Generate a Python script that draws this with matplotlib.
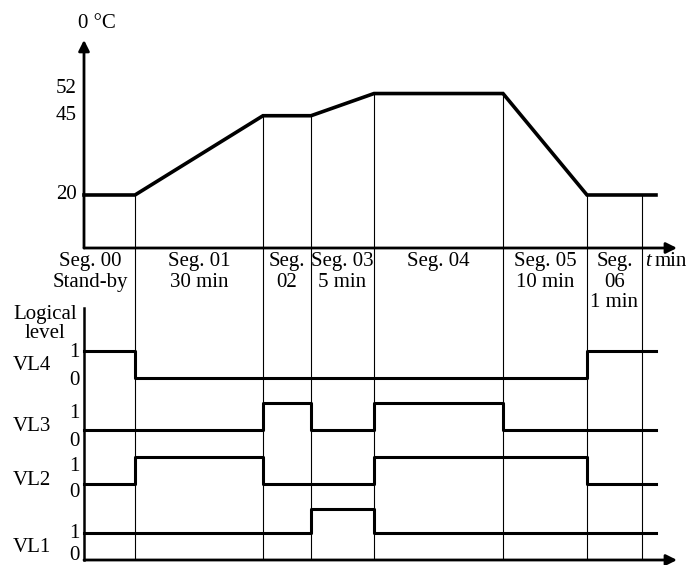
import matplotlib
matplotlib.use("Agg")
import matplotlib.pyplot as plt

# schematic time axis: segment edges (drawing units, axis origin = 0)
seg_edges = [0, 51, 179, 227, 290, 419, 503, 558]
line_end = 572
axis_end = 593

seg_labels = ["Seg. 00\nStand-by", "Seg. 01\n30 min", "Seg.\n02", "Seg. 03\n5 min",
              "Seg. 04", "Seg. 05\n10 min", "Seg.\n06\n1 min"]

# temperature profile (°C) at the corner points
temp_x = [0, 51, 179, 227, 290, 419, 503, line_end]
temp_y = [20, 20, 45, 45, 52, 52, 20, 20]
temp_ticks = [20, 45, 52]

# logic signals, one value per segment
names = ["VL4", "VL3", "VL2", "VL1"]
levels = {
    "VL4": [1, 0, 0, 0, 0, 0, 1],
    "VL3": [0, 0, 1, 0, 1, 0, 0],
    "VL2": [0, 1, 0, 0, 1, 1, 0],
    "VL1": [1, 1, 1, 1.9, 1, 1, 1],
}
row_base = {"VL4": 6.74, "VL3": 4.81, "VL2": 2.81, "VL1": 0.0}
# label offsets (name, "1", "0") relative to each row base
label_dy = {"VL4": (0.45, 0.95, -0.08), "VL3": (0.12, 0.62, -0.42),
            "VL2": (0.15, 0.65, -0.3), "VL1": (0.45, 0.97, 0.17)}

plt.rcParams["font.family"] = ["Liberation Serif", "DejaVu Serif"]
FS = 15

fig = plt.figure(figsize=(6.92, 5.65), dpi=100)
split = (565 - 248) / 565
ax_t = fig.add_axes([0, split, 1, 1 - split])
ax_l = fig.add_axes([0, 0, 1, split])

t_bot, t_top = 3.28, 81.5
l_bot, l_top = -5 / 27, 312 / 27
for ax in (ax_t, ax_l):
    ax.set_xlim(-84, 608)
    ax.axis("off")
ax_t.set_ylim(t_bot, t_top)
ax_l.set_ylim(l_bot, l_top)

arrow = dict(arrowstyle="-|>", lw=2, color="black", mutation_scale=16,
             shrinkA=0, shrinkB=0)

# temperature chart
ax_t.annotate("", xy=(0, 68.9), xytext=(0, t_bot), arrowprops=arrow)
ax_t.annotate("", xy=(axis_end, t_bot), xytext=(0, t_bot), arrowprops=arrow)
ax_t.plot(temp_x, temp_y, color="black", lw=2.6, solid_joinstyle="miter")
for x in seg_edges[1:]:
    ty = temp_y[temp_x.index(x)] if x in temp_x else 20
    ax_t.vlines(x, t_bot, ty, color="black", lw=0.8)
for v in temp_ticks:
    ax_t.text(-7, v + (1.5 if v == 52 else 0), str(v), ha="right", va="center", fontsize=FS)
ax_t.text(-6, 74, "0 °C", ha="left", va="center", fontsize=FS)

# segment labels and time unit
lab_y = (560 - 252) / 27
for i, lab in enumerate(seg_labels):
    cx = (seg_edges[i] + seg_edges[i + 1]) / 2
    if i == 0:
        cx = 6
    ax_l.text(cx, lab_y, lab, ha="center", va="top", fontsize=FS, linespacing=1.12)
ax_l.text(561, lab_y, "t", ha="left", va="top", fontsize=FS, style="italic")
ax_l.text(571, lab_y, "min", ha="left", va="top", fontsize=FS)

# logic chart
ax_l.vlines(seg_edges[1:], 0, l_top, color="black", lw=0.8)
ax_l.plot([0, 0], [0, (560 - 308) / 27], color="black", lw=1.8)
ax_l.annotate("", xy=(axis_end, 0), xytext=(0, 0), arrowprops=arrow)
ax_l.text(-39, (560 - 305) / 27, "Logical\nlevel", ha="center", va="top",
          fontsize=FS, linespacing=1.0)
for n in names:
    b = row_base[n]
    ys = [b + v for v in levels[n]]
    ax_l.plot(seg_edges[:-1] + [line_end], ys + [ys[-1]], drawstyle="steps-post",
              color="black", lw=2.2)
    dn, d1, d0 = label_dy[n]
    ax_l.text(-52, b + dn, n, ha="center", va="center", fontsize=FS)
    ax_l.text(-10, b + d1, "1", ha="center", va="center", fontsize=FS)
    ax_l.text(-10, b + d0, "0", ha="center", va="center", fontsize=FS)

fig.savefig("out.png", dpi=100)
